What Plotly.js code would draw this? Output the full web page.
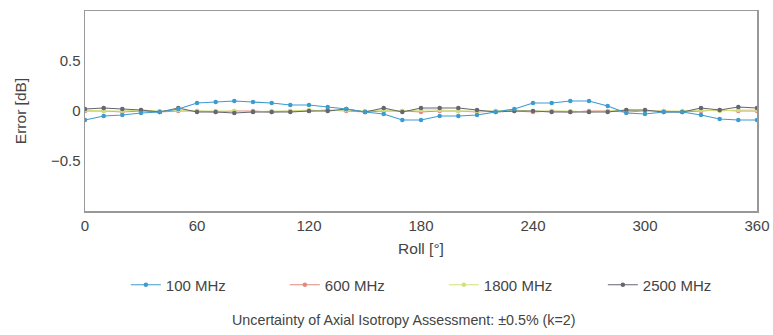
<!DOCTYPE html>
<html>
<head>
<meta charset="utf-8">
<script src="https://cdn.plot.ly/plotly-3.0.1.min.js"></script>
<style>html,body{margin:0;padding:0;background:#fff;}#chart{width:773px;height:335px;}</style>
</head>
<body>
<div id="chart"></div>
<script>
const roll = [0,10,20,30,40,50,60,70,80,90,100,110,120,130,140,150,160,170,180,190,200,210,220,230,240,250,260,270,280,290,300,310,320,330,340,350,360];
const seriesNames = ["100 MHz","600 MHz","1800 MHz","2500 MHz"];
const mhz100  = [-0.09,-0.05,-0.04,-0.02,-0.01,0.02,0.08,0.09,0.10,0.09,0.08,0.06,0.06,0.04,0.02,-0.01,-0.03,-0.09,-0.09,-0.05,-0.05,-0.04,-0.01,0.02,0.08,0.08,0.10,0.10,0.05,-0.02,-0.03,-0.01,-0.01,-0.04,-0.08,-0.09,-0.09];
const mhz600  = [0.00,0.00,-0.01,0.00,-0.01,0.00,0.00,-0.01,0.00,0.00,-0.01,0.00,0.00,0.01,0.00,-0.01,0.00,0.00,-0.01,0.00,0.00,-0.01,0.00,0.00,-0.01,0.00,-0.01,0.00,0.00,-0.01,0.00,0.00,-0.01,0.00,0.01,0.00,0.00];
const mhz1800 = [0.01,0.00,0.00,0.01,0.00,0.01,0.00,0.00,0.00,-0.01,0.00,0.00,0.01,0.00,0.01,0.00,0.01,0.00,0.01,0.01,0.00,0.00,0.00,0.01,0.00,0.00,0.00,-0.01,0.00,0.01,0.00,0.00,0.00,0.01,0.00,0.01,0.01];
const mhz2500 = [0.02,0.03,0.02,0.01,-0.01,0.03,-0.01,-0.01,-0.02,-0.01,-0.01,-0.01,0.00,0.00,0.02,-0.01,0.03,-0.01,0.03,0.03,0.03,0.01,-0.01,0.00,0.00,-0.01,-0.01,-0.01,-0.01,0.01,0.01,-0.01,-0.01,0.03,0.01,0.04,0.03];
const colors = ["#3d9ccf","#e0897e","#cfe27a","#666672"];
const allSeries = [mhz100, mhz600, mhz1800, mhz2500];
const xTicks = [0,60,120,180,240,300,360];
const yTicks = [-0.5,0,0.5];
const yTickText = ["\u22120.5","0","0.5"];

const order = [1,2,3,0];
const traces = order.map(i => ({
  x: roll, y: allSeries[i], name: seriesNames[i], type: 'scatter', mode: 'lines+markers',
  line: {color: colors[i], width: 1.2},
  marker: {color: colors[i], size: 4.5},
  legendrank: i + 1
}));

const layout = {
  width: 773, height: 335,
  margin: {l: 85, r: 16, t: 11, b: 124},
  paper_bgcolor: '#fff', plot_bgcolor: '#fff',
  font: {family: 'Liberation Sans, Arial, sans-serif', color: '#444', size: 15},
  showlegend: true,
  xaxis: {
    range: [0, 360], tickvals: xTicks, ticktext: xTicks.map(String),
    showgrid: false, zeroline: false, showline: true, mirror: true,
    linecolor: '#999', linewidth: 1.5, ticks: '', tickfont: {size: 15, color: '#444'},
    title: {text: 'Roll [\u00b0]', font: {size: 15.5, color: '#444'}, standoff: 10}
  },
  yaxis: {
    range: [-1, 1], tickvals: yTicks, ticktext: yTickText,
    showgrid: false, zeroline: false, showline: true, mirror: true,
    linecolor: '#999', linewidth: 1.5, ticks: '', tickfont: {size: 15, color: '#444'},
    title: {text: 'Error [dB]', font: {size: 15.5, color: '#444'}, standoff: 20}
  },
  legend: {
    orientation: 'h', x: 0.534, xanchor: 'center', y: -0.37, yanchor: 'middle',
    font: {size: 15, color: '#444'}, entrywidth: 114, entrywidthmode: 'pixels',
    traceorder: 'normal', itemwidth: 30
  },
  annotations: [{
    text: 'Uncertainty of Axial Isotropy Assessment: \u00b10.5% (k=2)',
    xref: 'paper', yref: 'paper', x: 0.475, y: -0.545, xanchor: 'center', yanchor: 'middle',
    showarrow: false, font: {size: 14.3, color: '#444'}
  }]
};
Plotly.newPlot('chart', traces, layout, {displayModeBar: false, staticPlot: true});
</script>
</body>
</html>
